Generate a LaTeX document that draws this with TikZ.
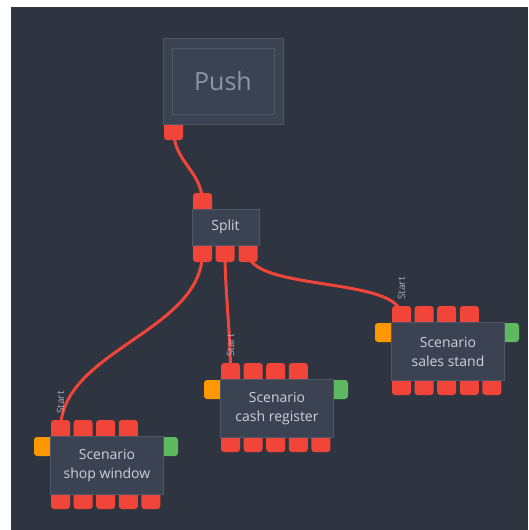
\documentclass[tikz,border=0pt]{standalone}
\usepackage{fontspec}
\setmainfont{Open Sans}
\definecolor{bgdark}{HTML}{2E3440}
\definecolor{nodefill}{HTML}{3B4252}
\definecolor{nodeborder}{HTML}{4E5669}
\definecolor{nodetext}{HTML}{CDD1D9}
\definecolor{pushtext}{HTML}{8E95A5}
\definecolor{portred}{HTML}{F2453A}
\definecolor{portorange}{HTML}{FF9800}
\definecolor{portgreen}{HTML}{5DB860}
\definecolor{lbltext}{HTML}{A9AEB8}
\pgfdeclarelayer{bglayer}
\pgfdeclarelayer{edges}
\pgfsetlayers{bglayer,edges,main}
\tikzset{
  port/.style={rectangle, rounded corners=3pt, fill=portred, inner sep=0pt, minimum width=19pt, minimum height=20pt},
  box/.style={rectangle, fill=nodefill, draw=nodeborder, line width=1pt, text=nodetext, inner sep=0pt, align=center, font=\fontsize{14}{19}\selectfont},
  wire/.style={draw=portred, line width=3pt},
  startlbl/.style={text=lbltext, font=\fontsize{10}{12}\selectfont, inner sep=1pt, rotate=90, anchor=west}
}
\newcommand\scenario[4]{%
  \foreach \i in {1,...,4} \node[port] (#1t\i) at ({#2+10.5+(\i-1)*22.6},{#3-6}) {};
  \foreach \i in {1,...,5} \node[port] (#1b\i) at ({#2+10.5+(\i-1)*22.6},{#3+63}) {};
  \node[port, fill=portorange, minimum width=20pt, minimum height=19pt] (#1l) at ({#2-6},{#3+10.5}) {};
  \node[port, fill=portgreen, minimum width=20pt, minimum height=19pt] (#1r) at ({#2+118},{#3+10.5}) {};
  \node[box, minimum width=113pt, minimum height=58pt, anchor=north west] (#1) at (#2,#3) {Scenario\\#4};
  \node[startlbl] (#1start) at ([yshift=5pt]#1t1.north) {Start};
}
\begin{document}
\begin{tikzpicture}[x=1pt,y=-1pt]
\useasboundingbox (0,0) rectangle (529,530);
\begin{pgfonlayer}{bglayer}
  \fill[white] (0,0) rectangle (529,530);
  \fill[bgdark] (11,7) rectangle (528,530);
\end{pgfonlayer}
% Push node
\node[port, minimum height=20pt] (pout) at (173.5,130) {};
\node[box, minimum width=120pt, minimum height=86pt] (push) at (223,81) {};
\node[rectangle, draw=nodeborder, line width=1pt, minimum width=102pt, minimum height=66pt, inner sep=0pt, text=pushtext, font=\fontsize{25}{30}\selectfont] (pushin) at (push.center) {Push};
% Split node
\node[port] (sin) at (202.5,203) {};
\node[port] (sp1) at (202.5,252) {};
\node[port] (sp2) at (225,252) {};
\node[port] (sp3) at (248,252) {};
\node[box, minimum width=67pt, minimum height=36pt] (split) at (225.5,227) {Split};
% Scenarios
\scenario{sw}{50}{436}{shop window}
\scenario{cr}{220}{379}{cash register}
\scenario{ss}{391}{322}{sales stand}
% Wires
\begin{pgfonlayer}{edges}
  \draw[wire] (pout.center) .. controls +(0,32) and +(0,-32) .. (sin.center);
  \draw[wire] (sp1.center) .. controls +(0,80) and +(0,-80) .. (swt1.center);
  \draw[wire] (sp2.center) .. controls +(0,40) and +(0,-40) .. (crt1.center);
  \draw[wire] (sp3.center) .. controls +(0,40) and +(0,-40) .. (sst1.center);
\end{pgfonlayer}
\end{tikzpicture}
\end{document}
